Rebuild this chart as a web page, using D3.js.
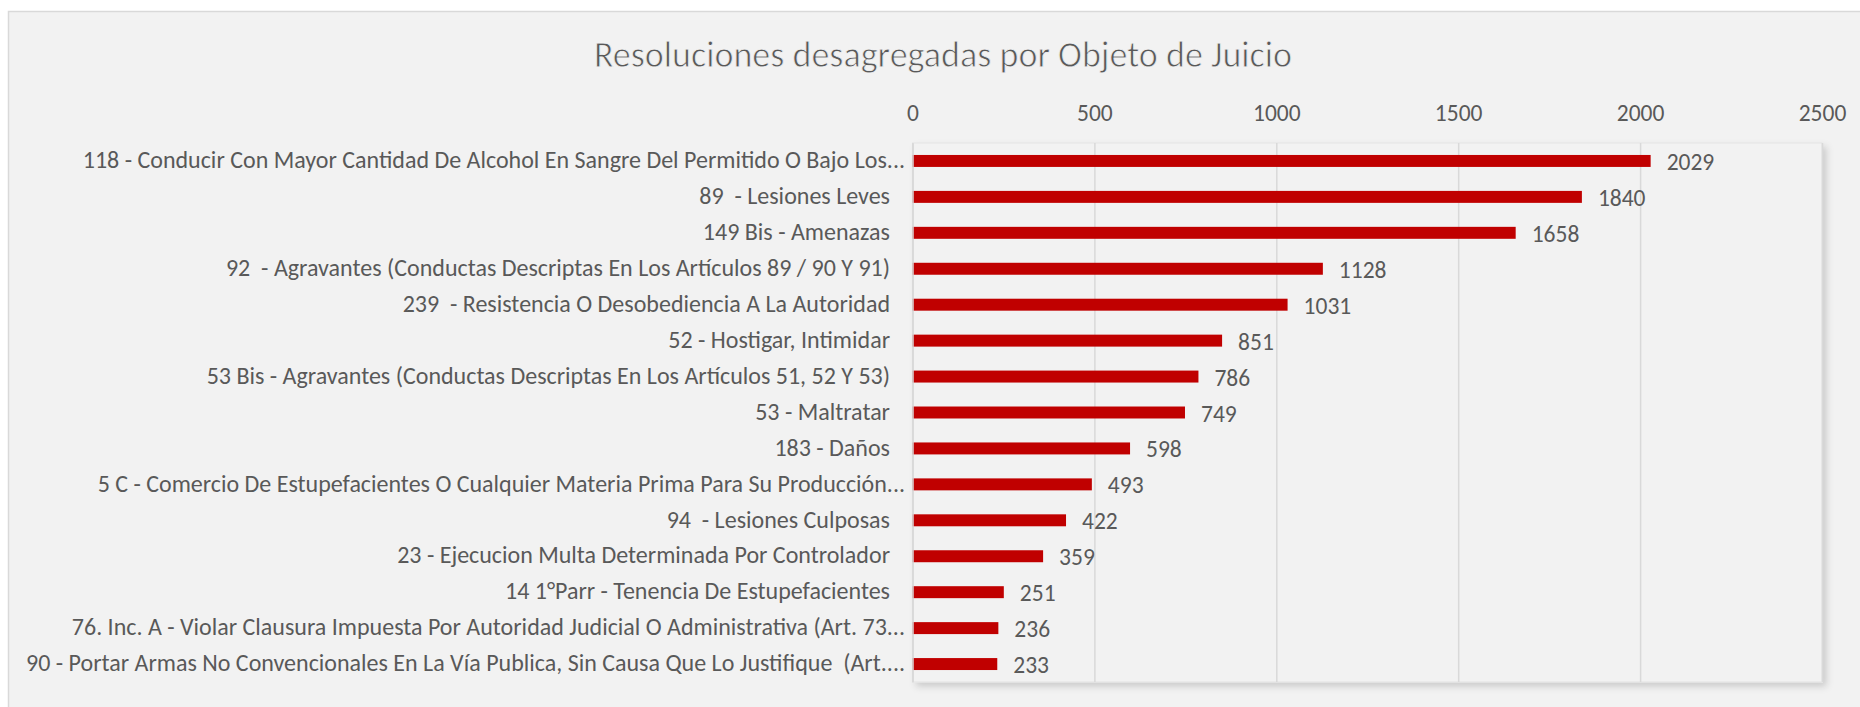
<!DOCTYPE html>
<html>
<head>
<meta charset="utf-8">
<script src="https://d3js.org/d3.v7.min.js"></script>
<style>
  body { margin: 0; background: #fff; }
  text { font-family: Carlito, Calibri, "Open Sans", sans-serif; fill: #595959; white-space: pre; }
</style>
</head>
<body>
<svg id="chart" width="1860" height="707"></svg>
<script>
// data
var categories = [
  "118 - Conducir Con Mayor Cantidad De Alcohol En Sangre Del Permitido O Bajo Los...",
  "89  - Lesiones Leves",
  "149 Bis - Amenazas",
  "92  - Agravantes (Conductas Descriptas En Los Artículos 89 / 90 Y 91)",
  "239  - Resistencia O Desobediencia A La Autoridad",
  "52 - Hostigar, Intimidar",
  "53 Bis - Agravantes (Conductas Descriptas En Los Artículos 51, 52 Y 53)",
  "53 - Maltratar",
  "183 - Daños",
  "5 C - Comercio De Estupefacientes O Cualquier Materia Prima Para Su Producción...",
  "94  - Lesiones Culposas",
  "23 - Ejecucion Multa Determinada Por Controlador",
  "14 1°Parr - Tenencia De Estupefacientes",
  "76. Inc. A - Violar Clausura Impuesta Por Autoridad Judicial O Administrativa (Art. 73...",
  "90 - Portar Armas No Convencionales En La Vía Publica, Sin Causa Que Lo Justifique  (Art...."
];
var values = [2029, 1840, 1658, 1128, 1031, 851, 786, 749, 598, 493, 422, 359, 251, 236, 233];
var xTicks = [0, 500, 1000, 1500, 2000, 2500];
var title = "Resoluciones desagregadas por Objeto de Juicio";

var data = categories.map(function(c, i) { return {cat: c, val: values[i]}; });

var svg = d3.select("#chart");

// chart area background
svg.append("rect")
  .attr("x", 8).attr("y", 11)
  .attr("width", 1860 - 8).attr("height", 707 - 11)
  .attr("fill", "#f2f2f2");
svg.append("path")
  .attr("d", "M8.5 707 L8.5 11.5 L1860 11.5")
  .attr("fill", "none")
  .attr("stroke", "#d9d9d9")
  .attr("stroke-width", 1.5);

// drop shadow for plot area
var defs = svg.append("defs");
var f = defs.append("filter").attr("id", "shadow")
  .attr("x", "-5%").attr("y", "-5%").attr("width", "110%").attr("height", "110%");
f.append("feDropShadow")
  .attr("dx", 4).attr("dy", 4)
  .attr("stdDeviation", 3.5)
  .attr("flood-color", "#000")
  .attr("flood-opacity", 0.16);

var plotLeft = 912.5, plotRight = 1822, plotTop = 143, plotBottom = 682;

var x = d3.scaleLinear().domain([0, 2500]).range([plotLeft, plotRight]);
var y = d3.scaleBand()
  .domain(categories)
  .range([plotTop, plotBottom])
  .paddingInner(0.667)
  .paddingOuter(0.333);

// plot area
svg.append("rect")
  .attr("x", plotLeft).attr("y", plotTop)
  .attr("width", plotRight - plotLeft).attr("height", plotBottom - plotTop)
  .attr("fill", "#f2f2f2")
  .attr("stroke", "#e3e3e3")
  .attr("stroke-width", 1)
  .attr("filter", "url(#shadow)");

// title (thinned a little to look like a light face)
svg.append("text")
  .attr("x", 943).attr("y", 67)
  .attr("text-anchor", "middle")
  .style("font-size", "36px")
  .style("stroke", "#f2f2f2")
  .style("stroke-width", "0.8px")
  .text(title);

// gridlines
svg.append("g")
  .attr("transform", "translate(0," + plotTop + ")")
  .call(d3.axisTop(x).tickValues(xTicks).tickSize(-(plotBottom - plotTop)).tickFormat(""))
  .call(function(g) {
    g.select(".domain").remove();
    g.selectAll("line").attr("stroke", "#d9d9d9").attr("stroke-width", 1.5);
  });

// top value axis labels
svg.append("g")
  .attr("transform", "translate(0," + plotTop + ")")
  .call(d3.axisTop(x).tickValues(xTicks).tickSize(0).tickPadding(22.5).tickFormat(d3.format("d")))
  .call(function(g) {
    g.select(".domain").remove();
    g.selectAll("text")
      .attr("dy", "0")
      .attr("fill", "#595959")
      .style("font-size", "23.5px");
  })
  .attr("font-family", null).attr("font-size", null);

// bars
svg.append("g").selectAll("rect")
  .data(data)
  .enter().append("rect")
  .attr("x", x(0))
  .attr("y", function(d) { return y(d.cat); })
  .attr("width", function(d) { return x(d.val) - x(0); })
  .attr("height", y.bandwidth())
  .attr("fill", "#c00000");

// category axis
svg.append("g")
  .attr("transform", "translate(" + plotLeft + ",0)")
  .call(d3.axisLeft(y).tickSize(0).tickPadding(22.5))
  .call(function(g) {
    g.select(".domain").attr("stroke", "#d9d9d9").attr("stroke-width", 1.5);
    g.selectAll("text")
      .attr("dy", "0.3em")
      .attr("x", function(d) { return d.slice(-3) === "..." ? -7.5 : -22.5; })
      .attr("fill", "#595959")
      .style("font-size", "24px");
  })
  .attr("font-family", null).attr("font-size", null);

// data labels
svg.append("g").selectAll("text")
  .data(data)
  .enter().append("text")
  .attr("x", function(d) { return x(d.val) + 16; })
  .attr("y", function(d) { return y(d.cat) + y.bandwidth() / 2 + 9; })
  .style("font-size", "23.5px")
  .text(function(d) { return d.val; });
</script>
</body>
</html>
